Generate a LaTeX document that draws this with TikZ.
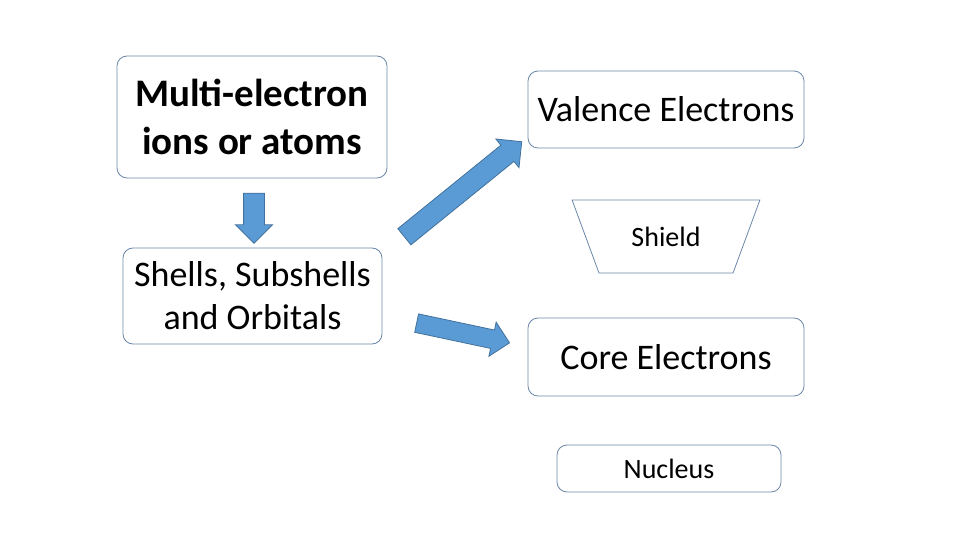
\documentclass[tikz,border=0pt]{standalone}
\usepackage{fontspec}
\setmainfont{Carlito}
\usetikzlibrary{shapes.geometric,shapes.arrows}
\definecolor{boxline}{HTML}{6A87A8}
\definecolor{arrowfill}{HTML}{5B9BD5}
\definecolor{arrowline}{HTML}{41719C}
\tikzset{
  topicbox/.style={draw=boxline, thick, rectangle, rounded corners=10pt, align=center, inner sep=0pt},
  blockarrow/.style={single arrow, draw=arrowline, fill=arrowfill, thick, inner sep=10pt,
    single arrow head extend=8pt, single arrow head indent=0pt}
}
\begin{document}
\begin{tikzpicture}[x=1pt,y=-1pt]
\useasboundingbox (0,0) rectangle (960,540);
% left column
\node[topicbox, minimum width=270pt, minimum height=122pt, font=\fontsize{39}{48}\selectfont\bfseries] (atoms) at (252,117) {Multi-electron\\ions or atoms};
\node[topicbox, minimum width=259pt, minimum height=96pt, font=\fontsize{36}{43}\selectfont] (shells) at (252.5,296) {Shells, Subshells\\and Orbitals};
% right column
\node[topicbox, minimum width=276pt, minimum height=77pt, font=\fontsize{36}{43}\selectfont] (valence) at (666,109.5) {Valence Electrons};
\node[trapezium, shape border rotate=180, draw=boxline, thick, trapezium stretches=true,
  minimum width=188pt, minimum height=73pt, font=\fontsize{28}{34}\selectfont] (shield) at (666,236.5) {Shield};
\node[topicbox, minimum width=276pt, minimum height=78pt, font=\fontsize{36}{43}\selectfont] (core) at (666,357) {Core Electrons};
\node[topicbox, minimum width=224pt, minimum height=47pt, font=\fontsize{28}{34}\selectfont] (nucleus) at (669,468.5) {Nucleus};
% block arrows
\node[blockarrow, minimum height=50pt, minimum width=34pt, rotate=-90] (down) at (254,213) {};
\node[blockarrow, minimum height=151pt, minimum width=36pt, rotate=39] (up) at (459,192.5) {};
\node[blockarrow, inner sep=9pt, minimum height=95pt, minimum width=30pt, rotate=-12] (right) at (458.5,332) {};
\end{tikzpicture}
\end{document}
